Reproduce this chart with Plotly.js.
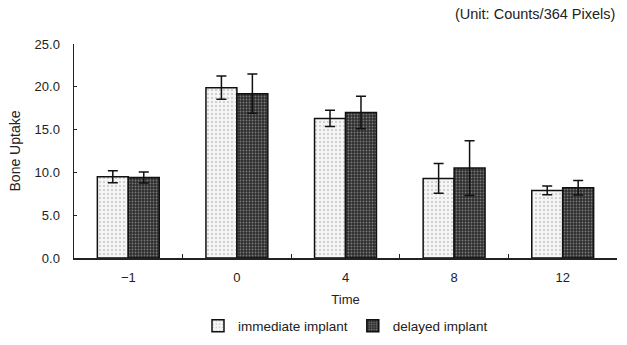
<!DOCTYPE html>
<html>
<head>
<meta charset="utf-8">
<script src="https://cdn.plot.ly/plotly-3.0.1.min.js"></script>
<style>html,body{margin:0;padding:0;background:#fff;}#chart{width:627px;height:345px;}</style>
</head>
<body>
<div id="chart"></div>
<script>
const categories = ["-1", "0", "4", "8", "12"];
const immediateValues = [9.5, 19.9, 16.3, 9.3, 7.9];
const immediateErrors = [0.7, 1.35, 0.95, 1.75, 0.5];
const delayedValues = [9.4, 19.2, 17.0, 10.5, 8.2];
const delayedErrors = [0.65, 2.3, 1.9, 3.2, 0.85];
const yTicks = [0, 5, 10, 15, 20, 25];
const yTickLabels = ["0.0", "5.0", "10.0", "15.0", "20.0", "25.0"];
const tickLabels = ["\u22121", "0", "4", "8", "12"];

const font = "Liberation Sans, Arial, sans-serif";
const ink = "#222";
const data = [
  {
    type: "bar", name: "immediate implant", x: categories, y: immediateValues,
    marker: {color: "#f2f2f2", line: {color: "#111", width: 1.5},
      pattern: {shape: ".", fgcolor: "#a0a0a0", bgcolor: "#f5f5f5", size: 4, solidity: 0.12}},
    error_y: {type: "data", array: immediateErrors, visible: true, color: "#111", thickness: 1.5, width: 5}
  },
  {
    type: "bar", name: "delayed implant", x: categories, y: delayedValues,
    marker: {color: "#333", line: {color: "#111", width: 1.5},
      pattern: {shape: ".", fgcolor: "#7a7a7a", bgcolor: "#2e2e2e", size: 3, solidity: 0.3}},
    error_y: {type: "data", array: delayedErrors, visible: true, color: "#111", thickness: 1.5, width: 5}
  }
];

const layout = {
  width: 627, height: 345,
  margin: {l: 74, r: 10, t: 44, b: 87, autoexpand: false},
  paper_bgcolor: "#fff", plot_bgcolor: "#fff",
  font: {family: font, size: 13, color: ink},
  barmode: "group", bargap: 0.43, bargroupgap: 0,
  showlegend: true,
  legend: {orientation: "h", x: 0.5, xanchor: "center", y: -0.318, yanchor: "middle",
    font: {family: font, size: 13.5, color: ink}, itemwidth: 30, tracegroupgap: 0},
  xaxis: {
    type: "category", tickvals: categories, ticktext: tickLabels,
    showline: true, linecolor: ink, linewidth: 1.5,
    ticks: "inside", ticklen: 4, tickcolor: ink, tickson: "boundaries",
    showgrid: false, zeroline: false, automargin: false,
    ticklabelstandoff: 7,
    tickfont: {family: font, size: 13, color: ink},
    title: {text: "Time", font: {family: font, size: 13, color: ink}, standoff: 11}
  },
  yaxis: {
    range: [0, 25], tickvals: yTicks, ticktext: yTickLabels,
    showline: true, linecolor: ink, linewidth: 1.5,
    ticks: "inside", ticklen: 3, tickcolor: ink,
    showgrid: false, zeroline: false, automargin: false,
    ticklabelstandoff: 10,
    tickfont: {family: font, size: 13, color: ink},
    title: {text: "Bone Uptake", font: {family: font, size: 14, color: ink}, standoff: 10}
  },
  annotations: [{
    text: "(Unit: Counts/364 Pixels)", xref: "paper", yref: "paper",
    x: 1, xanchor: "right", y: 1.14, yanchor: "middle", showarrow: false,
    font: {family: font, size: 14.5, color: ink}
  }]
};

Plotly.newPlot("chart", data, layout, {displayModeBar: false, staticPlot: true});
</script>
</body>
</html>
